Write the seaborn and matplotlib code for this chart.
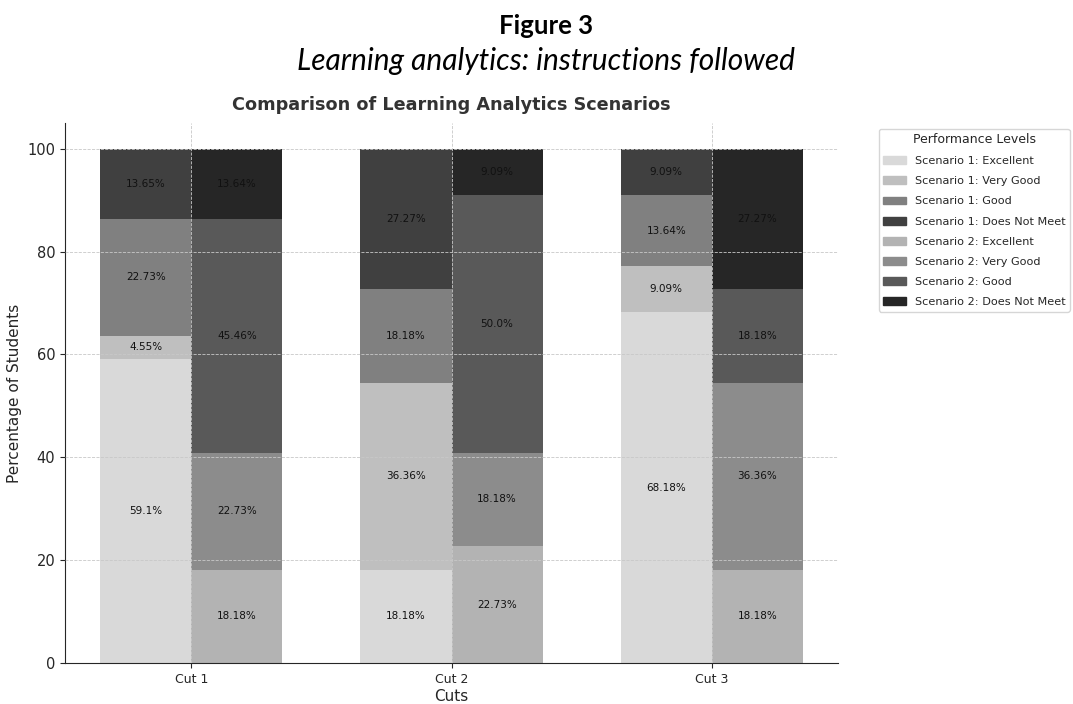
import numpy as np
import pandas as pd
import matplotlib
matplotlib.use("Agg")
import matplotlib.pyplot as plt
import seaborn as sns
from matplotlib.patches import Patch

### Data ###
cuts = ["Cut 1", "Cut 2", "Cut 3"]
levels = ["Excellent", "Very Good", "Good", "Does Not Meet"]

scenario1_excellent = [59.1, 18.18, 68.18]
scenario1_very_good = [4.55, 36.36, 9.09]
scenario1_good = [22.73, 18.18, 13.64]
scenario1_not_meet = [13.65, 27.27, 9.09]

scenario2_excellent = [18.18, 22.73, 18.18]
scenario2_very_good = [22.73, 18.18, 36.36]
scenario2_good = [45.46, 50.0, 18.18]
scenario2_not_meet = [13.64, 9.09, 27.27]

scenario1_colors = ["#d9d9d9", "#bfbfbf", "#808080", "#404040"]
scenario2_colors = ["#b3b3b3", "#8c8c8c", "#595959", "#262626"]


def draw_stack(ax, series, colors, offset, width):
    """
    Draws one stacked column per cut for a scenario, with a centred label in each segment.
    """
    pos = np.arange(len(cuts)) + offset
    bottom = np.zeros(len(cuts))
    for values, color in zip(series, colors):
        df = pd.DataFrame({"pos": pos, "value": values})
        sns.barplot(
            data=df, x="pos", y="value", native_scale=True, width=width,
            color=color, saturation=1, errorbar=None, bottom=bottom,
            linewidth=0, ax=ax,
        )
        ax.bar_label(
            ax.containers[-1], labels=[f"{v}%" for v in values],
            label_type="center", fontsize=7.5, color="#111111",
        )
        bottom = bottom + np.array(values)


sns.set_style("ticks")
plt.rcParams["font.family"] = ["DejaVu Sans"]

fig = plt.figure(figsize=(10.73, 7.04), dpi=100)
ax = fig.add_axes([0.0606, 0.0582, 0.7205, 0.7671])

width = 0.35
draw_stack(
    ax,
    [scenario1_excellent, scenario1_very_good, scenario1_good, scenario1_not_meet],
    scenario1_colors, -width / 2, width,
)
draw_stack(
    ax,
    [scenario2_excellent, scenario2_very_good, scenario2_good, scenario2_not_meet],
    scenario2_colors, width / 2, width,
)

ax.set_xticks(np.arange(len(cuts)))
ax.set_xticklabels(cuts, fontsize=9)
ax.set_xlim(-0.485, 2.485)
ax.set_ylim(0, 105)
ax.set_yticks([0, 20, 40, 60, 80, 100])
ax.tick_params(axis="y", labelsize=10.5)
ax.tick_params(length=3.5)
ax.set_xlabel("Cuts", fontsize=11, labelpad=2)
ax.set_ylabel("Percentage of Students", fontsize=11)
ax.set_title(
    "Comparison of Learning Analytics Scenarios",
    fontsize=12.7, fontweight="bold", color="#333333", pad=9,
)
ax.grid(True, linestyle="--", linewidth=0.6, color="#c8c8c8")
ax.set_axisbelow(False)
sns.despine(ax=ax)

# Legend built from the same colours
handles = [
    Patch(color=c, label=f"Scenario 1: {lv}") for lv, c in zip(levels, scenario1_colors)
] + [
    Patch(color=c, label=f"Scenario 2: {lv}") for lv, c in zip(levels, scenario2_colors)
]
ax.legend(
    handles=handles, title="Performance Levels", loc="upper left",
    bbox_to_anchor=(1.045, 1.0), fontsize=8.1, title_fontsize=9,
    labelspacing=0.9, frameon=True,
)

fig.text(0.509, 0.963, "Figure 3", family="Lato", fontweight="bold",
         fontsize=18.5, ha="center", va="center", color="black")
fig.text(0.509, 0.914, "Learning analytics: instructions followed",
         family="Lato", style="italic", fontsize=21.5, ha="center", va="center",
         color="black")

fig.savefig("out.png", dpi=100)
